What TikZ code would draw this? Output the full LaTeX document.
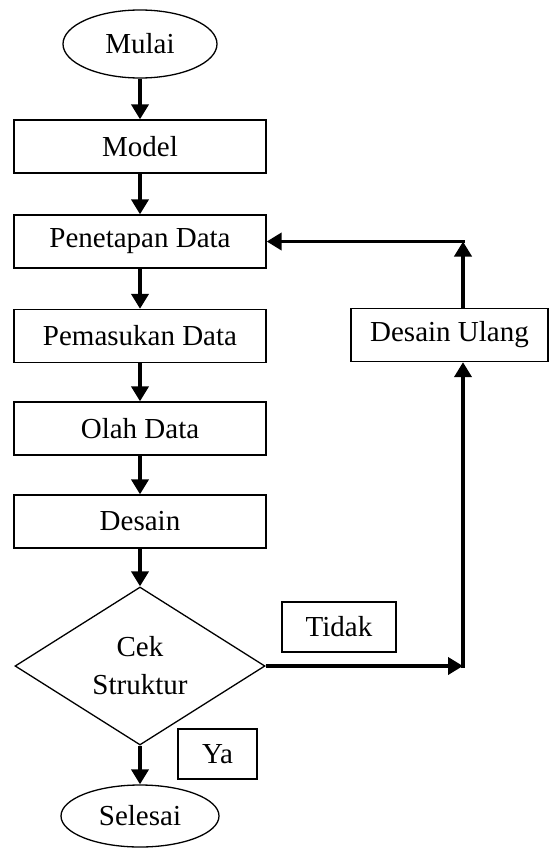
\documentclass[tikz,border=0pt]{standalone}
\usepackage{fontspec}
\setmainfont{Liberation Serif}
\usetikzlibrary{shapes.geometric,arrows.meta}
\begin{document}
\begin{tikzpicture}[x=1pt,y=-1pt,
  every node/.style={font=\fontsize{29}{38}\selectfont, inner sep=0pt},
  procbox/.style={draw, line width=1.3pt, rectangle, minimum width=252pt, minimum height=53pt},
  termshape/.style={draw, line width=1.3pt, ellipse},
  labelbox/.style={draw, line width=1.3pt, rectangle},
  decshape/.style={draw, line width=1.3pt, diamond, minimum width=250pt, minimum height=158pt, align=center},
  flow/.style={line width=3.8pt, -{Triangle[length=15pt,width=17pt]}},
  plain/.style={line width=3.8pt}]
\useasboundingbox (0,0) rectangle (550,848);
\node[termshape, minimum width=154pt, minimum height=68pt] (mulai) at (140,44) {Mulai};
\node[procbox] (model) at (140,146.5) {Model};
\node[procbox] (pen) at (140,241.5) {Penetapan Data};
\node[procbox] (pem) at (140,336) {Pemasukan Data};
\node[procbox] (olah) at (140,428.5) {Olah Data};
\node[procbox] (des) at (140,521.5) {Desain};
\node[decshape] (cek) at (140,666) {Cek\\Struktur};
\node[termshape, minimum width=158pt, minimum height=62pt] (sel) at (140,816) {Selesai};
\node[procbox, minimum width=197pt] (ulang) at (449.5,335) {Desain Ulang};
\node[labelbox, minimum width=114pt, minimum height=50pt] (tidak) at (339,627) {Tidak};
\node[labelbox, minimum width=79pt, minimum height=50pt] (ya) at (217.5,754) {Ya};
\coordinate (c1) at (463,666);
\coordinate (c2) at (463,241.5);

\draw[flow] (mulai) -- (model);
\draw[flow] (model) -- (pen);
\draw[flow] (pen) -- (pem);
\draw[flow] (pem) -- (olah);
\draw[flow] (olah) -- (des);
\draw[flow] (des) -- (cek);
\draw[flow] (cek) -- (sel);
\draw[flow] (cek.east) -- (c1);
\draw[flow] ([yshift=-1.9pt]c1) -- (c1 |- ulang.south);
\draw[flow] (c1 |- ulang.north) -- (c2);
\draw[flow] ([xshift=1.9pt]c2) -- (pen.east);
\end{tikzpicture}
\end{document}
